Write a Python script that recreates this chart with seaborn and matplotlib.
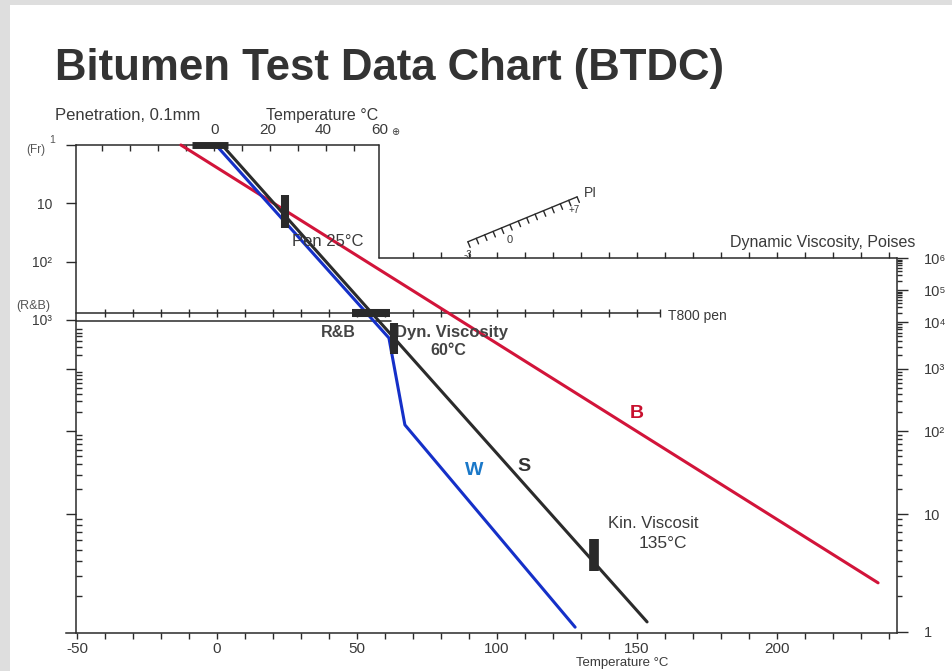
import numpy as np
import pandas as pd
import matplotlib
matplotlib.use("Agg")
import matplotlib.pyplot as plt
import seaborn as sns

# Grade lines: temperature (deg C) vs chart position
# (chart position = decades of penetration below the top line, extended down the chart)
b_temp = [-12.9, 236.1]
b_pos = [0.0, 7.51]
s_temp = [1.8, 153.6]
s_pos = [0.0, 8.18]
w_temp = [0.0, 61.4, 67.1, 127.9]
w_pos = [0.02, 3.31, 4.80, 8.27]
line_colors = {"B": "#d2143a", "S": "#2b2b2b", "W": "#1530c8"}

# Test points (black bars)
fraass_temp = [-9.0, 4.0]        # horizontal bar on the Fr line
pen25_temp = 24.3                # vertical bar, pen at 25C
pen25_pos = [0.86, 1.42]
rb_temp = [48.2, 61.8]           # horizontal bar on the R&B line
dyn_temp = 63.2                  # dynamic viscosity 60C
dyn_pos = [3.05, 3.58]
kin_temp = 134.6                 # kinematic viscosity 135C
kin_pos = [6.76, 7.31]

# Scales
bottom_ticks = [-50, 0, 50, 100, 150, 200]
top_tick_labels = ["0", "20", "40", "60"]
top_tick_pos = [-1, 18, 38, 58]
pen_labels = ["", "10", "10²", "10³"]
pen_pos = [0, 1, 2, 3]
visc_labels = ["10⁶", "10⁵", "10⁴", "10³", "10²", "10", "1"]
visc_pos = [1.94, 2.49, 3.04, 3.84, 4.91, 6.33, 8.35]

# chart frame
left_T, right_T, box_T = -50.4, 242.9, 57.9
bottom_pos, rb_line_pos, k3_line_pos, visc_top_pos = 8.37, 2.88, 3.02, 1.94

sns.set_theme(style="white")
plt.rcParams["font.family"] = ["Liberation Sans", "DejaVu Sans"]
ink = "#2a2a2a"
txt = "#3a3a3a"

fig = plt.figure(figsize=(9.53, 6.71), dpi=100)
fig.patch.set_facecolor("#dedede")
ax = fig.add_axes([10 / 953, 0, 943 / 953, 666 / 671])
ax.set_facecolor("white")

lines = pd.DataFrame({
    "temp": b_temp + s_temp + w_temp,
    "pos": b_pos + s_pos + w_pos,
    "grade": ["B"] * len(b_temp) + ["S"] * len(s_temp) + ["W"] * len(w_temp),
})
sns.lineplot(data=lines, x="temp", y="pos", hue="grade", palette=line_colors,
             sort=False, estimator=None, lw=2.2, legend=False, ax=ax, zorder=3)

ax.set_xlim(-73.93, 262.86)
ax.set_ylim(9.022, -2.401)
ax.set_xlabel("")
ax.set_ylabel("")
fig.canvas.draw()

# bars for the test results
bar = dict(color=ink, solid_capstyle="butt", zorder=5)
ax.plot(fraass_temp, [0, 0], lw=5, **bar)
ax.plot([pen25_temp] * 2, pen25_pos, lw=5.8, **bar)
ax.plot(rb_temp, [rb_line_pos] * 2, lw=5.8, **bar)
ax.plot([dyn_temp] * 2, dyn_pos, lw=5.8, **bar)
ax.plot([kin_temp] * 2, kin_pos, lw=7, **bar)

# spines as chart axes
ax.spines["top"].set_visible(False)
ax.spines["right"].set_visible(False)
ax.spines["bottom"].set_position(("data", bottom_pos))
ax.spines["bottom"].set_bounds(-54, right_T)
ax.spines["left"].set_position(("data", left_T))
ax.spines["left"].set_bounds(0, bottom_pos)
for s in ["bottom", "left"]:
    ax.spines[s].set_color(ink)
    ax.spines[s].set_linewidth(1.1)

ax.set_xticks(bottom_ticks, [str(t) for t in bottom_ticks])
ax.set_xticks([t for t in range(-40, 241, 10) if t % 50], minor=True)
ax.tick_params(axis="x", which="both", direction="out", length=4.5, width=1,
               color=ink, bottom=True, labelsize=11, labelcolor=txt, pad=2)


def minor_positions(pos, lo_limit):
    out = []
    for hi, lo in zip(pos[:-1], pos[1:]):
        for m in range(2, 10):
            p = lo - (lo - hi) * np.log10(m)
            if p > lo_limit:
                out.append(p)
    return out


visc_minor = minor_positions(visc_pos, 1.9)
ax.set_yticks(pen_pos + visc_pos[3:6], pen_labels + ["", "", ""])
ax.set_yticks(minor_positions(visc_pos, 3.15), minor=True)
ax.tick_params(axis="y", which="major", direction="out", length=7, width=1,
               color=ink, left=True, labelsize=10, labelcolor=txt, pad=10)
ax.tick_params(axis="y", which="minor", direction="in", length=4, width=1,
               color=ink, left=True)

ax2 = ax.twinx()
ax2.set_ylim(ax.get_ylim())
for s in ["top", "bottom", "left"]:
    ax2.spines[s].set_visible(False)
ax2.spines["right"].set_position(("data", right_T))
ax2.spines["right"].set_bounds(visc_top_pos, bottom_pos)
ax2.spines["right"].set_color(ink)
ax2.spines["right"].set_linewidth(1.1)
ax2.set_yticks(visc_pos, visc_labels)
ax2.set_yticks(visc_minor, minor=True)
ax2.tick_params(axis="y", which="major", direction="out", length=8, width=1,
                color=ink, right=True, labelsize=10.5, labelcolor=txt, pad=11)
ax2.tick_params(axis="y", which="minor", direction="out", length=3.5, width=1,
                color=ink, right=True)
ax2.grid(False)
ax.grid(False)

# frame lines of the chart
fl = dict(color=ink, lw=1.1, zorder=2)
ax.plot([left_T, box_T], [0, 0], **fl)
ax.plot([box_T, box_T], [0, visc_top_pos], **fl)
ax.plot([box_T, right_T], [visc_top_pos] * 2, **fl)
ax.plot([left_T, 158.2], [rb_line_pos] * 2, **fl)
ax.plot([left_T, 62], [k3_line_pos] * 2, **fl)

tk = 0.1
top_ticks = [t - 1 for t in range(-40, 60, 10)]
ax.vlines(top_ticks, 0, tk, color=ink, lw=1)
ax.vlines(range(70, 241, 10), visc_top_pos - tk, visc_top_pos, color=ink, lw=1)
ax.vlines(list(range(-40, 151, 10)) + [158.2], rb_line_pos - 0.07, rb_line_pos + 0.07,
          color=ink, lw=1)

# PI ruler
pi_start, pi_end = np.array([89.6, 1.66]), np.array([128.6, 0.89])
pa, pb = ax.transData.transform(pi_start), ax.transData.transform(pi_end)
d = (pb - pa) / np.hypot(*(pb - pa))
nrm = np.array([d[1], -d[0]])
ax.plot([pi_start[0], pi_end[0]], [pi_start[1], pi_end[1]], color=ink, lw=1)
inv = ax.transData.inverted()
for f in np.linspace(0, 1, 14):
    p0 = pa + f * (pb - pa)
    q0, q1 = inv.transform(p0), inv.transform(p0 + 6 * nrm)
    ax.plot([q0[0], q1[0]], [q0[1], q1[1]], color=ink, lw=1)
ax.text(89.6, 1.88, "-3", fontsize=7, color=txt, ha="center", va="center")
ax.text(104.5, 1.63, "0", fontsize=8, color=txt, ha="center", va="center")
ax.text(127.5, 1.11, "+7", fontsize=7, color=txt, ha="center", va="center")
ax.text(133.5, 0.82, "PI", fontsize=10, color=txt, ha="center", va="center")

# labels
ax.text(-31.8, -0.51, "Penetration, 0.1mm", fontsize=12, color=txt, ha="center", va="center")
ax.text(37.5, -0.51, "Temperature °C", fontsize=11.5, color=txt, ha="center", va="center")
for lab, t in zip(top_tick_labels, top_tick_pos):
    ax.text(t, -0.26, lab, fontsize=11, color=txt, ha="center", va="center")
ax.text(63.5, -0.22, "⊕", fontsize=7, color=txt, ha="center", va="center",
        family=["DejaVu Sans"])
ax.text(-64.6, 0.09, "(Fr)", fontsize=8.5, color="#555555", ha="center", va="center")
ax.text(-58.9, -0.09, "1", fontsize=7.5, color="#555555", ha="center", va="center")
ax.text(-59.6, 2.76, "(R&B)", fontsize=9, color="#555555", ha="right", va="center")

ax.text(26.8, 1.66, "Pen 25°C", fontsize=12, color=txt, va="center", zorder=4)
ax.text(43.2, 3.22, "R&B", fontsize=11.5, fontweight="bold", color="#444444",
        ha="center", va="center")
ax.text(63.6, 3.22, "Dyn. Viscosity", fontsize=12, fontweight="bold", color="#444444",
        va="center")
ax.text(82.5, 3.53, "60°C", fontsize=11.5, fontweight="bold", color="#444444",
        ha="center", va="center")
ax.text(139.6, 6.50, "Kin. Viscosit", fontsize=12, color=txt, va="center")
ax.text(159.3, 6.83, "135°C", fontsize=12.5, color=txt, ha="center", va="center")
ax.text(161.0, 2.93, "T800 pen", fontsize=10, color=txt, va="center")
ax.text(249.3, 1.68, "Dynamic Viscosity, Poises", fontsize=11.5, color=txt, ha="right",
        va="center")
ax.text(144.6, 8.88, "Temperature °C", fontsize=9.5, color=txt, ha="center", va="center")

ax.text(150, 4.61, "B", fontsize=14, fontweight="bold", color="#c8102e", ha="center", va="center")
ax.text(109.6, 5.51, "S", fontsize=14, fontweight="bold", color="#333333", ha="center", va="center")
ax.text(91.8, 5.59, "W", fontsize=14, fontweight="bold", color="#1a78c8", ha="center", va="center")

fig.text(55 / 953, 1 - 80 / 671, "Bitumen Test Data Chart (BTDC)", fontsize=31.5,
         fontweight="bold", color="#333333", va="baseline")

fig.savefig("out.png", dpi=100, facecolor=fig.get_facecolor())
